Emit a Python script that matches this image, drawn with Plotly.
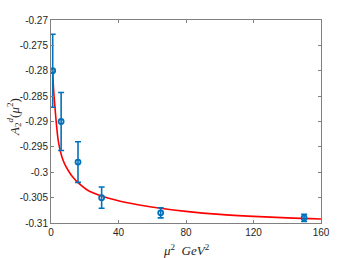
import plotly.graph_objects as go

# data points with error bars
mu2 = [1, 6, 16, 30, 65, 150]
a2d = [-0.280, -0.290, -0.298, -0.305, -0.308, -0.309]
err = [0.0072, 0.0057, 0.0040, 0.0021, 0.0010, 0.0007]

# fit curve
fit_x = [1, 1.5, 2, 2.5, 3.2, 4.4, 6.3, 8, 10.3, 13, 16.2, 22, 30, 41, 55, 65, 80, 100, 120, 140, 160]
fit_y = [-0.2800, -0.2835, -0.2858, -0.2878, -0.2905, -0.2940, -0.2968, -0.2983, -0.2997, -0.3010,
         -0.3021, -0.3036, -0.3047, -0.3057, -0.3066, -0.3071, -0.3077, -0.3083, -0.3087, -0.3090, -0.3092]

x_ticks = [0, 40, 80, 120, 160]
y_ticks = [-0.27, -0.275, -0.28, -0.285, -0.29, -0.295, -0.3, -0.305, -0.31]
y_labels = ["-0.27", "-0.275", "-0.28", "-0.285", "-0.29", "-0.295", "-0.3", "-0.305", "-0.31"]

x_title = "<i>μ</i><sup>2</sup>  <i>GeV</i><sup>2</sup>"
y_title = "<i>A</i><sub>2</sub><sup><i>d</i></sup>(<i>μ</i><sup>2</sup>)"

fig = go.Figure()
fig.add_trace(go.Scatter(
    x=fit_x, y=fit_y, mode="lines", line=dict(color="#ff0000", width=1.6, shape="spline"),
    showlegend=False, hoverinfo="skip"))
fig.add_trace(go.Scatter(
    x=mu2, y=a2d, mode="markers",
    marker=dict(symbol="circle-open", size=5, color="#0072bd", line=dict(width=1.8, color="#0072bd")),
    error_y=dict(type="data", array=err, visible=True, color="#0072bd", thickness=1.6, width=3),
    showlegend=False))

axis_common = dict(showline=True, linecolor="#808080", linewidth=1, mirror="ticks",
                   ticks="inside", ticklen=3, tickcolor="#808080", showgrid=False, zeroline=False,
                   automargin=False,
                   tickfont=dict(family="Liberation Sans, Arial", size=10, color="#262626"))

fig.update_xaxes(range=[0, 160], tickvals=x_ticks, ticktext=[str(t) for t in x_ticks], **axis_common)
fig.update_yaxes(range=[-0.31, -0.27], tickvals=y_ticks, ticktext=y_labels, **axis_common)

title_font = dict(family="Liberation Serif, Times New Roman", size=13, color="#262626")
fig.add_annotation(text=x_title, xref="paper", yref="paper", x=0.5, y=-0.085,
                   xanchor="center", yanchor="top", showarrow=False, font=title_font)
fig.add_annotation(text=y_title, xref="paper", yref="paper", x=-0.135, y=0.52,
                   xanchor="center", yanchor="middle", textangle=-90, showarrow=False, font=title_font)

fig.update_layout(width=354, height=258, margin=dict(l=51, r=33, t=20, b=35),
                  plot_bgcolor="white", paper_bgcolor="white")

fig.write_html("out.html", config={"displayModeBar": False},
               post_script="document.body.style.margin='0';")
